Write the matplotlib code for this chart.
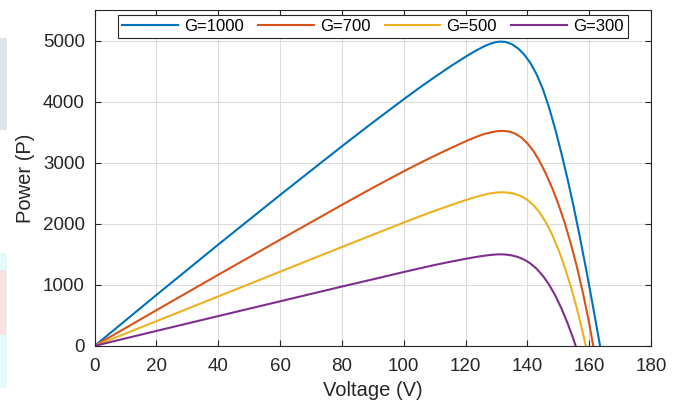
import matplotlib
matplotlib.use("Agg")
import matplotlib.pyplot as plt
from matplotlib.patches import Rectangle

plt.rcParams['font.family'] = ['Liberation Sans', 'DejaVu Sans']

# P-V curves for four irradiance levels (W vs V)
v_1000 = [0, 20, 40, 60, 80, 90, 100, 105, 110, 115, 120, 123, 126, 128, 130, 131.5, 133, 135, 137, 139,
          141, 143, 145, 147, 149, 151, 153, 155, 157, 159, 161, 163, 163.5]
p_1000 = [0, 835, 1660, 2472, 3270, 3660, 4040, 4225, 4403, 4575, 4737, 4827, 4907, 4950, 4978, 4985, 4977, 4941, 4872, 4770,
          4631, 4446, 4206, 3906, 3551, 3156, 2731, 2271, 1776, 1253, 707, 143, 0]

v_700 = [0, 20, 40, 60, 80, 90, 100, 105, 110, 115, 120, 123, 126, 128, 130, 132, 134, 136, 138, 140,
         142, 144, 146, 148, 150, 152, 154, 156, 158, 160, 161, 161.3]
p_700 = [0, 585, 1165, 1740, 2310, 2590, 2860, 2990, 3115, 3235, 3350, 3415, 3470, 3495, 3515, 3522, 3512, 3478, 3414, 3318,
         3188, 3020, 2818, 2588, 2326, 2026, 1684, 1297, 860, 370, 80, 0]

v_500 = [0, 20, 40, 60, 80, 90, 100, 105, 110, 115, 120, 123, 126, 128, 130, 132, 134, 136, 138, 140,
         142, 144, 146, 148, 150, 152, 154, 156, 158, 158.9]
p_500 = [0, 405, 810, 1215, 1620, 1820, 2020, 2118, 2212, 2302, 2388, 2435, 2476, 2498, 2512, 2516, 2510, 2490, 2452, 2392,
         2304, 2182, 2022, 1822, 1582, 1302, 980, 613, 200, 0]

v_300 = [0, 20, 40, 60, 80, 90, 100, 105, 110, 115, 120, 123, 126, 128, 130, 131, 133, 135, 137, 139,
         141, 143, 145, 147, 149, 151, 153, 155, 155.6]
p_300 = [0, 245, 488, 730, 972, 1090, 1210, 1268, 1325, 1377, 1426, 1453, 1477, 1489, 1498, 1500, 1496, 1482, 1455, 1412,
         1349, 1262, 1148, 1004, 827, 616, 372, 96, 0]

labels = ['G=1000', 'G=700', 'G=500', 'G=300']
colors = ['#0072BD', '#D95319', '#EDB120', '#7E2F8E']

fig = plt.figure(figsize=(6.81, 4.05), dpi=100)
ax = fig.add_axes([0.139, 0.146, 0.817, 0.829])

# faint marks along the left edge of the image
fig.patches.append(Rectangle((0, 1 - 130/405), 7/681, 92/405, transform=fig.transFigure,
                             facecolor='#dfe5ea', edgecolor='none'))
fig.patches.append(Rectangle((0, 1 - 388/405), 7/681, 135/405, transform=fig.transFigure,
                             facecolor='#e4fafa', edgecolor='none'))
fig.patches.append(Rectangle((0, 1 - 335/405), 6/681, 65/405, transform=fig.transFigure,
                             facecolor='#fbe0e2', edgecolor='none'))

for v, p, lab, c in zip([v_1000, v_700, v_500, v_300], [p_1000, p_700, p_500, p_300], labels, colors):
    ax.plot(v, p, color=c, lw=1.5, label=lab)

ax.set_xlim(0, 180)
ax.set_ylim(0, 5500)
ax.set_xticks(range(0, 181, 20))
ax.set_yticks(range(0, 5001, 1000))
ax.grid(True, color='#dcdcdc', lw=0.8)
ax.set_axisbelow(True)
ax.tick_params(direction='in', top=True, right=True, labelsize=13.5, colors='#262626', length=4)
ax.tick_params(axis='y', pad=7)
ax.tick_params(axis='x', pad=9)
for s in ax.spines.values():
    s.set_color('#262626')
    s.set_linewidth(0.8)

ax.set_xlabel('Voltage (V)', fontsize=14.5, color='#262626', labelpad=4)
ax.set_ylabel('Power (P)', fontsize=14.5, color='#262626', labelpad=6)

leg = ax.legend(loc='upper center', bbox_to_anchor=(0.5, 0.995), ncol=4, fontsize=12,
                handlelength=3.35, columnspacing=0.85, handletextpad=0.36,
                fancybox=False, framealpha=1, borderpad=0.25, borderaxespad=0.2)
leg.get_frame().set_edgecolor('#262626')
leg.get_frame().set_linewidth(0.8)

fig.savefig('out.png', dpi=100)
